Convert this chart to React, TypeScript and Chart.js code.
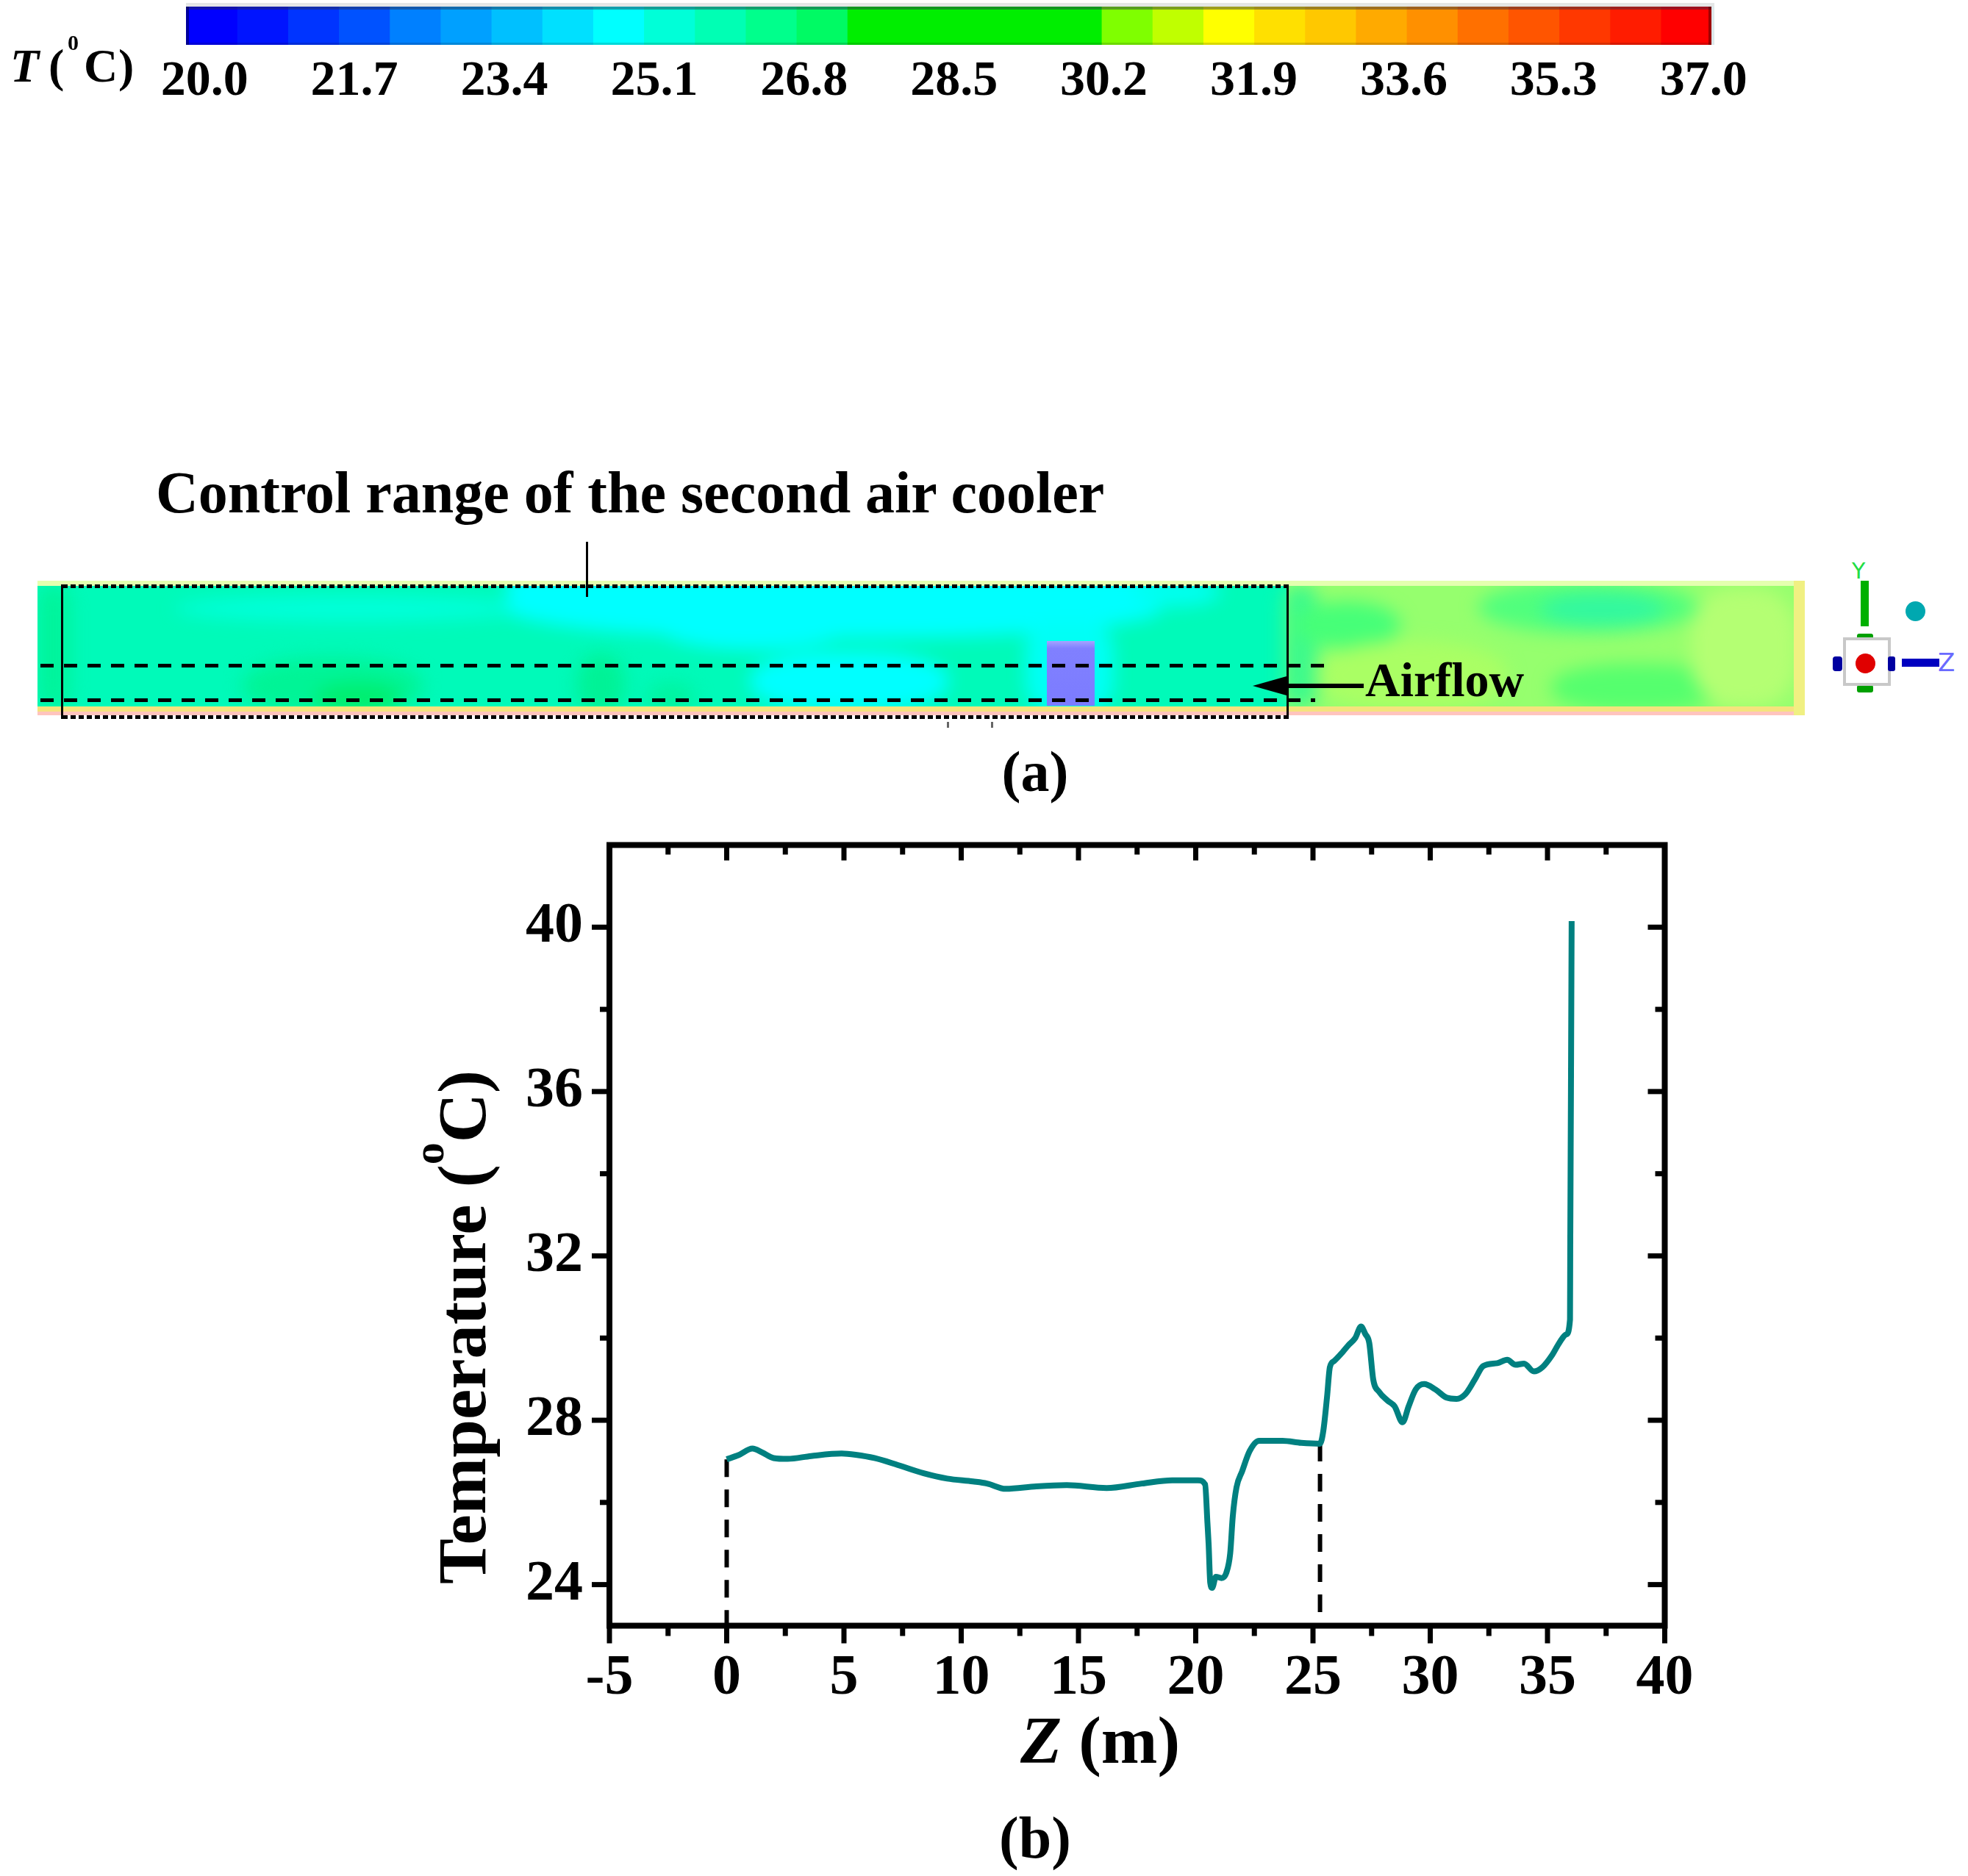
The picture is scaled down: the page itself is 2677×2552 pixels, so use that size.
import React, { useEffect, useRef } from 'react';
import { Chart, registerables } from 'chart.js';

Chart.register(...registerables);

// ---------- data: panel (b) temperature profile ----------
const zValues = [
  0.0, 0.5, 1.1, 1.5, 2.0, 2.6, 3.6, 4.9, 5.5, 6.3, 7.3, 8.4, 9.4, 10.5, 11.1, 11.9, 13.2, 14.5, 16.2, 17.7,
  19.0, 20.1, 20.4, 20.5, 20.55, 20.62, 20.7, 20.86, 21.1, 21.3, 21.47, 21.58, 21.74, 21.98, 22.3, 22.7, 23.7,
  24.5, 25.3, 25.44, 25.6, 25.72, 25.9, 26.25, 26.5, 26.8, 27.05, 27.23, 27.4, 27.57, 27.82, 28.18, 28.48,
  28.82, 29.08, 29.38, 29.74, 30.22, 30.7, 31.12, 31.49, 31.9, 32.26, 32.86, 33.28, 33.64, 34.0, 34.42, 34.78,
  35.2, 35.5, 35.8, 35.96, 35.97, 36.0, 36.03,
];
const tempValues = [
  27.05, 27.15, 27.31, 27.22, 27.08, 27.06, 27.13, 27.19, 27.16, 27.08, 26.91, 26.71, 26.58, 26.51, 26.46, 26.33,
  26.39, 26.42, 26.35, 26.46, 26.54, 26.54, 26.44, 25.5, 24.99, 24.04, 23.92, 24.19, 24.16, 24.28, 24.76, 25.66,
  26.37, 26.76, 27.25, 27.5, 27.5, 27.45, 27.43, 27.74, 28.57, 29.29, 29.44, 29.65, 29.82, 30.0, 30.28, 30.1,
  29.88, 28.99, 28.69, 28.48, 28.34, 27.95, 28.34, 28.75, 28.88, 28.75, 28.55, 28.52, 28.63, 28.99, 29.32,
  29.39, 29.47, 29.35, 29.38, 29.19, 29.29, 29.59, 29.88, 30.09, 30.45, 32.15, 36.0, 40.15,
];
const controlStartZ = 0;
const controlEndZ = 25.3;
const xRange = [-5, 40];
const yRange = [23, 42];
const xMajorTicks = [-5, 0, 5, 10, 15, 20, 25, 30, 35, 40];
const xMinorTicks = [-2.5, 2.5, 7.5, 12.5, 17.5, 22.5, 27.5, 32.5, 37.5];
const yMajorTicks = [24, 28, 32, 36, 40];
const yMinorTicks = [26, 30, 34, 38];

// ---------- data: colour legend ----------
const colorbarTicks = [20.0, 21.7, 23.4, 25.1, 26.8, 28.5, 30.2, 31.9, 33.6, 35.3, 37.0];
const colorbarRange = [19.79, 37.09];
const colorbarColors = [
  '#0000ff', '#0014ff', '#0034ff', '#0052ff', '#0080ff', '#00a0ff', '#00c0ff', '#00e0ff', '#00ffff', '#00ffd8',
  '#00ffb4', '#00ff8c', '#00fa64', '#00ee00', '#00ee00', '#00ee00', '#00ee00', '#00ee00', '#7fff00', '#c0ff00',
  '#ffff00', '#ffe000', '#ffc800', '#ffaa00', '#ff9000', '#ff7000', '#ff5500', '#ff3800', '#ff1c00', '#ff0000',
];

const SERIF = '"Liberation Serif", "Times New Roman", serif';
const PLOT_TOP = 1050;

// frame, ticks and axis titles for the plot
const framePlugin = {
  id: 'originFrame',
  afterDatasetsDraw(chart: any) {
    const { ctx, chartArea: a, scales } = chart;
    const xs = scales.x;
    const ys = scales.y;
    ctx.save();
    ctx.strokeStyle = '#000';
    ctx.lineCap = 'butt';
    ctx.lineWidth = 7;
    const seg = (x1: number, y1: number, x2: number, y2: number) => {
      ctx.beginPath();
      ctx.moveTo(x1, y1);
      ctx.lineTo(x2, y2);
      ctx.stroke();
    };
    xMajorTicks.forEach((v) => {
      const p = xs.getPixelForValue(v);
      seg(p, a.bottom, p, a.bottom + 24);
      seg(p, a.top, p, a.top + 21);
    });
    xMinorTicks.forEach((v) => {
      const p = xs.getPixelForValue(v);
      seg(p, a.bottom, p, a.bottom + 14);
      seg(p, a.top, p, a.top + 13);
    });
    yMajorTicks.forEach((v) => {
      const p = ys.getPixelForValue(v);
      seg(a.left, p, a.left - 24, p);
      seg(a.right, p, a.right - 23, p);
    });
    yMinorTicks.forEach((v) => {
      const p = ys.getPixelForValue(v);
      seg(a.left, p, a.left - 13, p);
      seg(a.right, p, a.right - 13, p);
    });
    ctx.lineWidth = 8;
    ctx.lineJoin = 'miter';
    ctx.strokeRect(a.left, a.top, a.right - a.left, a.bottom - a.top);
    ctx.restore();
  },
  afterDraw(chart: any) {
    const { ctx } = chart;
    ctx.save();
    ctx.fillStyle = '#000';
    ctx.textBaseline = 'alphabetic';
    ctx.textAlign = 'left';
    // y title, rotated
    ctx.translate(660, 2155 - PLOT_TOP);
    ctx.rotate(-Math.PI / 2);
    ctx.font = `bold 93px ${SERIF}`;
    const t1 = 'Temperature (';
    ctx.fillText(t1, 0, 0);
    const w1 = ctx.measureText(t1).width;
    ctx.font = `bold 60px ${SERIF}`;
    ctx.fillText('o', w1, -57);
    const w2 = ctx.measureText('o').width;
    ctx.font = `bold 93px ${SERIF}`;
    ctx.fillText('C)', w1 + w2, 0);
    ctx.restore();
    // x title
    ctx.save();
    ctx.fillStyle = '#000';
    ctx.textBaseline = 'alphabetic';
    ctx.textAlign = 'left';
    ctx.font = `italic bold 92px ${SERIF}`;
    ctx.fillText('Z', 1388, 2398 - PLOT_TOP);
    const wz = ctx.measureText('Z').width;
    ctx.font = `bold 92px ${SERIF}`;
    ctx.fillText(' (m)', 1388 + wz, 2398 - PLOT_TOP);
    ctx.restore();
  },
};

type TxtProps = { x: number; baseline: number; size: number; center?: boolean; italic?: boolean; children: React.ReactNode };
function Txt({ x, baseline, size, center, italic, children }: TxtProps) {
  return (
    <div
      style={{
        position: 'absolute',
        left: x,
        top: baseline - 0.8373 * size,
        fontSize: size,
        lineHeight: 1,
        fontWeight: 'bold',
        fontStyle: italic ? 'italic' : 'normal',
        fontFamily: SERIF,
        whiteSpace: 'nowrap',
        color: '#000',
        transform: center ? 'translateX(-50%)' : undefined,
      }}
    >
      {children}
    </div>
  );
}

const rect = (x1: number, y1: number, x2: number, y2: number, extra: React.CSSProperties = {}): React.CSSProperties => ({
  position: 'absolute',
  left: x1,
  top: y1,
  width: x2 - x1,
  height: y2 - y1,
  ...extra,
});

// contour illustration patches (page coordinates)
const blobs: [number, number, number, number, string, string][] = [
  [51, 797, 95, 962, 'rgb(0,244,155)', '20%'],
  [237, 810, 720, 846, 'rgb(0,255,218)', '50%'],
  [690, 780, 1580, 868, 'rgb(0,255,255)', '0 0 45% 45%'],
  [1540, 785, 1660, 825, 'rgb(0,255,240)', '50%'],
  [900, 830, 1150, 884, 'rgb(0,255,255)', '50%'],
  [1020, 886, 1290, 968, 'rgb(0,255,255)', '45%'],
  [1395, 848, 1515, 968, 'rgb(0,255,245)', '30%'],
  [330, 895, 575, 972, 'rgb(0,244,150)', '45%'],
  [430, 930, 545, 972, 'rgb(0,238,110)', '45%'],
  [785, 890, 850, 972, 'rgb(0,242,150)', '45%'],
  [880, 928, 945, 972, 'rgb(0,244,160)', '45%'],
  [1745, 797, 1792, 962, 'rgb(60,250,140)', '20%'],
  [1760, 818, 1905, 882, 'rgb(70,255,120)', '50%'],
  [2010, 790, 2310, 862, 'rgb(80,255,125)', '50%'],
  [2095, 808, 2265, 850, 'rgb(50,248,160)', '50%'],
  [1790, 872, 2050, 966, 'rgb(170,255,100)', '45%'],
  [2110, 903, 2345, 968, 'rgb(85,255,110)', '45%'],
  [2300, 800, 2445, 962, 'rgb(180,255,115)', '40%'],
];

export default function App() {
  const cbRef = useRef<HTMLCanvasElement>(null);
  const plotRef = useRef<HTMLCanvasElement>(null);

  useEffect(() => {
    const fontTick = { family: SERIF, size: 78, weight: 'bold' as const };
    const step = (colorbarRange[1] - colorbarRange[0]) / colorbarColors.length;
    const cb = new Chart(cbRef.current!, {
      type: 'bar',
      data: {
        labels: [''],
        datasets: colorbarColors.map((c, i) => ({
          data: [[colorbarRange[0] + i * step, colorbarRange[0] + (i + 1) * step]] as any,
          backgroundColor: c,
          borderWidth: 0,
          barPercentage: 1,
          categoryPercentage: 1,
          grouped: false,
          inflateAmount: 0.6,
        })),
      },
      options: {
        indexAxis: 'y',
        animation: false,
        responsive: false,
        devicePixelRatio: 1,
        layout: { padding: { left: 253, right: 2677 - 2328, top: 9, bottom: 0 } },
        plugins: { legend: { display: false }, tooltip: { enabled: false } },
        scales: {
          x: {
            type: 'linear',
            min: colorbarRange[0],
            max: colorbarRange[1],
            afterBuildTicks: (s: any) => {
              s.ticks = colorbarTicks.map((v) => ({ value: v }));
            },
            afterFit: (s: any) => {
              s.height = 160 - 61;
            },
            ticks: {
              color: '#000',
              padding: 10,
              font: { family: SERIF, size: 68, weight: 'bold' },
              callback: (v: any) => Number(v).toFixed(1),
            },
            grid: { display: false, drawTicks: false },
            border: { display: false },
          },
          y: { display: false },
        },
      } as any,
    });

    const curve = zValues.map((z, i) => ({ x: z, y: tempValues[i] }));
    const plot = new Chart(plotRef.current!, {
      type: 'line',
      data: {
        datasets: [
          {
            data: curve,
            borderColor: '#008080',
            borderWidth: 8,
            pointRadius: 0,
            cubicInterpolationMode: 'monotone',
            borderJoinStyle: 'round',
          },
          {
            data: [
              { x: controlStartZ, y: tempValues[0] },
              { x: controlStartZ, y: yRange[0] },
            ],
            borderColor: '#000',
            borderWidth: 6,
            borderDash: [24, 17],
            pointRadius: 0,
          },
          {
            data: [
              { x: controlEndZ, y: tempValues[zValues.indexOf(controlEndZ)] },
              { x: controlEndZ, y: yRange[0] },
            ],
            borderColor: '#000',
            borderWidth: 6,
            borderDash: [24, 17],
            pointRadius: 0,
          },
        ],
      },
      options: {
        animation: false,
        responsive: false,
        devicePixelRatio: 1,
        layout: { padding: 0 },
        plugins: { legend: { display: false }, tooltip: { enabled: false } },
        scales: {
          x: {
            type: 'linear',
            position: 'bottom',
            min: xRange[0],
            max: xRange[1],
            afterBuildTicks: (s: any) => {
              s.ticks = xMajorTicks.map((v) => ({ value: v }));
            },
            afterFit: (s: any) => {
              s.height = 1502 - (2211.5 - PLOT_TOP);
            },
            ticks: { color: '#000', padding: 26, font: fontTick, callback: (v: any) => String(v) },
            grid: { display: false, drawTicks: false },
            border: { display: false },
          },
          xTop: {
            type: 'linear',
            position: 'top',
            min: xRange[0],
            max: xRange[1],
            afterFit: (s: any) => {
              s.height = 1149.5 - PLOT_TOP;
            },
            ticks: { display: false },
            grid: { display: false, drawTicks: false },
            border: { display: false },
          },
          y: {
            type: 'linear',
            position: 'left',
            min: yRange[0],
            max: yRange[1],
            afterBuildTicks: (s: any) => {
              s.ticks = yMajorTicks.map((v) => ({ value: v }));
            },
            afterFit: (s: any) => {
              s.width = 829;
            },
            ticks: { color: '#000', padding: 36, font: fontTick, callback: (v: any) => String(v) },
            grid: { display: false, drawTicks: false },
            border: { display: false },
          },
          yRight: {
            type: 'linear',
            position: 'right',
            min: yRange[0],
            max: yRange[1],
            afterFit: (s: any) => {
              s.width = 2677 - 2264.5;
            },
            ticks: { display: false },
            grid: { display: false, drawTicks: false },
            border: { display: false },
          },
        },
      } as any,
      plugins: [framePlugin],
    });

    return () => {
      cb.destroy();
      plot.destroy();
    };
  }, []);

  return (
    <div
      style={{
        position: 'absolute',
        left: 0,
        top: 0,
        width: 2677,
        height: 2552,
        background: '#fff',
        overflow: 'hidden',
        fontFamily: SERIF,
      }}
    >
      {/* colour legend */}
      <div style={rect(253, 4, 2332, 9, { background: '#e4e6e6' })} />
      <canvas ref={cbRef} width={2677} height={160} style={{ position: 'absolute', left: 0, top: 0, width: 2677, height: 160 }} />
      <div style={rect(253, 9, 2328, 13, { background: 'rgba(40,40,70,0.45)' })} />
      <div style={rect(253, 58, 2328, 61, { background: 'rgba(0,0,0,0.15)' })} />
      <div style={rect(253, 9, 257, 61, { background: 'rgba(0,0,60,0.5)' })} />
      <div style={rect(2324, 9, 2328, 61, { background: 'rgba(60,0,0,0.5)' })} />
      <div style={rect(2328, 9, 2332, 61, { background: '#dde8ea' })} />

      <Txt x={14} baseline={112} size={64} italic>T</Txt>
      <Txt x={66} baseline={112} size={64}>(</Txt>
      <Txt x={92} baseline={68} size={30}>0</Txt>
      <Txt x={114} baseline={112} size={64}>C</Txt>
      <Txt x={161} baseline={112} size={64}>)</Txt>

      {/* panel (a) */}
      <Txt x={212} baseline={697} size={80}>Control range of the second air cooler</Txt>

      <div style={rect(51, 790, 2455, 973, { overflow: 'hidden', background: 'linear-gradient(to right, rgb(0,250,185) 0px, rgb(0,250,185) 1701px, rgb(150,255,110) 1701px)' })}>
        <div style={{ position: 'absolute', left: 0, top: 0, width: 2404, height: 183, filter: 'blur(12px)' }}>
          {blobs.map(([x1, y1, x2, y2, c, r], i) => (
            <div key={i} style={rect(x1 - 51, y1 - 790, x2 - 51, y2 - 790, { background: c, borderRadius: r })} />
          ))}
        </div>
        <div style={rect(0, 0, 2404, 7, { background: 'rgb(228,255,175)' })} />
        <div style={rect(0, 171, 2404, 178, { background: 'rgb(245,226,125)' })} />
        <div style={rect(0, 178, 2404, 183, { background: 'rgb(255,196,190)' })} />
        <div style={rect(2389, 0, 2404, 183, { background: 'rgb(240,240,130)' })} />
      </div>

      {/* pointer line from the caption */}
      <div style={rect(797, 737, 800, 812, { background: '#000' })} />

      {/* cooler block */}
      <div style={rect(1424, 872, 1489, 960, { background: 'linear-gradient(to bottom, #a4a4ff 0px, #8080ff 10px, #7c7cff 100%)' })} />

      {/* control range box */}
      <div style={rect(85, 795, 1752, 800, { background: 'repeating-linear-gradient(to right, #000 0px, #000 7px, transparent 7px, transparent 11px)' })} />
      <div style={rect(85, 973, 1752, 978, { background: 'repeating-linear-gradient(to right, #000 0px, #000 7px, transparent 7px, transparent 11px)' })} />
      <div style={rect(83, 795, 86, 978, { background: '#000' })} />
      <div style={rect(1750, 795, 1753, 978, { background: '#000' })} />
      <div style={rect(55, 903, 1813, 908, { background: 'repeating-linear-gradient(to right, #000 0px, #000 18px, transparent 18px, transparent 32px)' })} />
      <div style={rect(55, 950, 1789, 955, { background: 'repeating-linear-gradient(to right, #000 0px, #000 18px, transparent 18px, transparent 32px)' })} />

      {/* airflow arrow */}
      <div style={rect(1745, 930, 1855, 936, { background: '#000' })} />
      <div style={{ position: 'absolute', left: 1704, top: 920, width: 0, height: 0, borderTop: '13px solid transparent', borderBottom: '13px solid transparent', borderRight: '46px solid #000' }} />
      <Txt x={1857} baseline={947} size={66}>Airflow</Txt>

      {/* small marks */}
      <div style={rect(1288, 982, 1291, 990, { background: '#666' })} />
      <div style={rect(1348, 982, 1351, 990, { background: '#666' })} />

      {/* axis triad */}
      <div style={{ position: 'absolute', left: 2519, top: 762, fontSize: 30, fontFamily: 'DejaVu Sans', color: '#22dd44', lineHeight: 1 }}>Y</div>
      <div style={rect(2531, 790, 2542, 852, { background: '#00b000' })} />
      <div style={rect(2526, 862, 2548, 870, { background: '#00a000', borderRadius: 3 })} />
      <div style={rect(2526, 932, 2548, 942, { background: '#00a000', borderRadius: 3 })} />
      <div style={rect(2507, 867, 2572, 933, { border: '4px solid #c8c8c8', boxSizing: 'border-box' })} />
      <div style={rect(2493, 893, 2506, 913, { background: '#0000a0', borderRadius: 4 })} />
      <div style={rect(2568, 893, 2578, 913, { background: '#0000a0', borderRadius: 3 })} />
      <div style={rect(2524, 889, 2551, 916, { background: '#e00000', borderRadius: '50%' })} />
      <div style={rect(2592, 818, 2619, 845, { background: '#00a8b0', borderRadius: '50%' })} />
      <div style={rect(2587, 896, 2638, 907, { background: '#0000c0' })} />
      <div style={{ position: 'absolute', left: 2636, top: 884, fontSize: 34, fontFamily: 'DejaVu Sans', color: '#6a6aff', lineHeight: 1 }}>Z</div>

      <Txt x={1408} baseline={1076} size={78} center>(a)</Txt>

      {/* panel (b) */}
      <canvas ref={plotRef} width={2677} height={1502} style={{ position: 'absolute', left: 0, top: PLOT_TOP, width: 2677, height: 1502 }} />
      <Txt x={1408} baseline={2527} size={80} center>(b)</Txt>
    </div>
  );
}
